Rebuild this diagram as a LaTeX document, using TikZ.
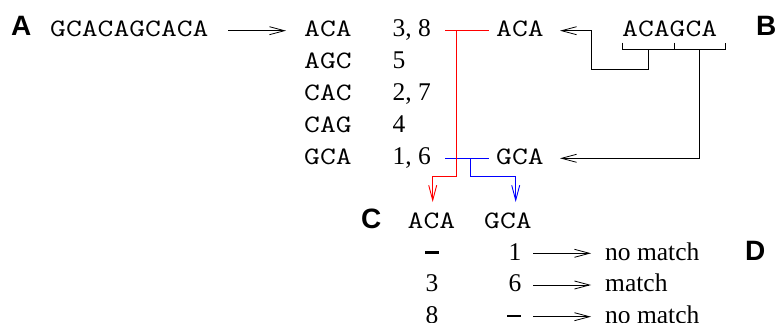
\documentclass[tikz,border=0pt]{standalone}
\usepackage{fontspec}
\setmainfont{Liberation Serif}
\newfontfamily\lmono[FakeStretch=1.23]{Latin Modern Mono}
\newfontfamily\lsans{Liberation Sans}
\usetikzlibrary{arrows.meta}
\tikzset{
  seqtxt/.style={inner sep=0pt, anchor=base west, font=\lmono\fontsize{25}{28}\selectfont},
  numtxt/.style={inner sep=0pt, anchor=base west, font=\fontsize{25.5}{30}\selectfont},
  numc/.style={inner sep=0pt, anchor=base, font=\fontsize{25.5}{30}\selectfont},
  lbl/.style={inner sep=0pt, anchor=base west, font=\lsans\bfseries\fontsize{28}{30}\selectfont},
  arr/.style={line width=0.8pt, -{Straight Barb[length=15pt,width=8pt,line width=0.8pt]}},
  ln/.style={line width=0.8pt},
  redln/.style={line width=0.9pt, draw={rgb,255:red,255;green,0;blue,0}},
  blueln/.style={line width=0.9pt, draw={rgb,255:red,0;green,0;blue,255}},
}
\newcommand{\nodash}{\rule[6.3pt]{13.5pt}{2.6pt}}
\begin{document}
\begin{tikzpicture}[x=1pt,y=-1pt]
\useasboundingbox (0,0) rectangle (778,323);
% labels
\node[lbl] (LA) at (11,35.5) {A};
\node[lbl] (LB) at (756,35.5) {B};
\node[lbl] (LC) at (361,228.3) {C};
\node[lbl] (LD) at (745,260) {D};
% sequence
\node[seqtxt] (seq) at (50,37) {GCACAGCACA};
% table
\node[seqtxt] (k1) at (304,36.5) {ACA};
\node[seqtxt] (k2) at (304,68.5) {AGC};
\node[seqtxt] (k3) at (304,100.5) {CAC};
\node[seqtxt] (k4) at (304,132.5) {CAG};
\node[seqtxt] (k5) at (304,164.5) {GCA};
\node[numtxt] (n1) at (392.5,36.5) {3, 8};
\node[numtxt] (n2) at (392.5,68.5) {5};
\node[numtxt] (n3) at (392.5,100.5) {2, 7};
\node[numtxt] (n4) at (392.5,132.5) {4};
\node[numtxt] (n5) at (392.5,164.5) {1, 6};
% query
\node[seqtxt] (q) at (622,36.5) {ACAGCA};
\node[seqtxt] (rA) at (496,36.5) {ACA};
\node[seqtxt] (rG) at (496,164.5) {GCA};
% bottom
\node[seqtxt] (cA) at (407.5,228.3) {ACA};
\node[seqtxt] (cG) at (484,228.3) {GCA};
\node[numc] (d1) at (432,260) {\nodash};
\node[numc] (d2) at (432,291.7) {3};
\node[numc] (d3) at (432,323.4) {8};
\node[numc] (e1) at (515,260) {1};
\node[numc] (e2) at (515,291.7) {6};
\node[numc] (e3) at (514,323.4) {\nodash};
\node[numtxt] (m1) at (605,260) {no match};
\node[numtxt] (m2) at (605,291.7) {match};
\node[numtxt] (m3) at (605,323.4) {no match};
% arrow A
\draw[arr] (228,30.7) coordinate (a0) -- (286,30.7) coordinate (a1);
% bottom arrows
\draw[arr] (533.3,253.3) coordinate (s1) -- (591,253.3) coordinate (t1);
\draw[arr] (533.3,285) coordinate (s2) -- (591,285) coordinate (t2);
\draw[arr] (533.3,316.7) coordinate (s3) -- (591,316.7) coordinate (t3);
% bracket
\coordinate (bl) at (622.7,42.7);
\coordinate (br) at (725,42.7);
\coordinate (bm) at (674.3,42.7);
\draw[ln] (bl) -- (622.7,49.3) -- (725,49.3) -- (br);
\draw[ln] (bm) -- (674.3,49.3);
\coordinate (b1) at (648.5,49.3);
\coordinate (b2) at (699.5,49.3);
\coordinate (j1) at (591.7,69);
\draw[arr] (b1) |- (j1) |- (560,30.7) coordinate (tipA);
\draw[arr] (b2) |- (560,158.3) coordinate (tipG);
% blue
\coordinate (u0) at (445,158.3);
\coordinate (u1) at (489,158.3);
\coordinate (uj) at (470,158.3);
\draw[blueln] (u0) -- (u1);
\draw[blueln, -{Straight Barb[length=15pt,width=8pt,line width=0.9pt]}] (uj) -- (470,176.7) -- (515.7,176.7) -- (515.7,202);
% red
\coordinate (r0) at (445,30.7);
\coordinate (r1) at (489,30.7);
\coordinate (rj) at (456.7,30.7);
\draw[redln] (r0) -- (r1);
\draw[redln, -{Straight Barb[length=15pt,width=8pt,line width=0.9pt]}] (rj) -- (456.7,176.7) -- (432.7,176.7) -- (432.7,202);
\end{tikzpicture}
\end{document}
